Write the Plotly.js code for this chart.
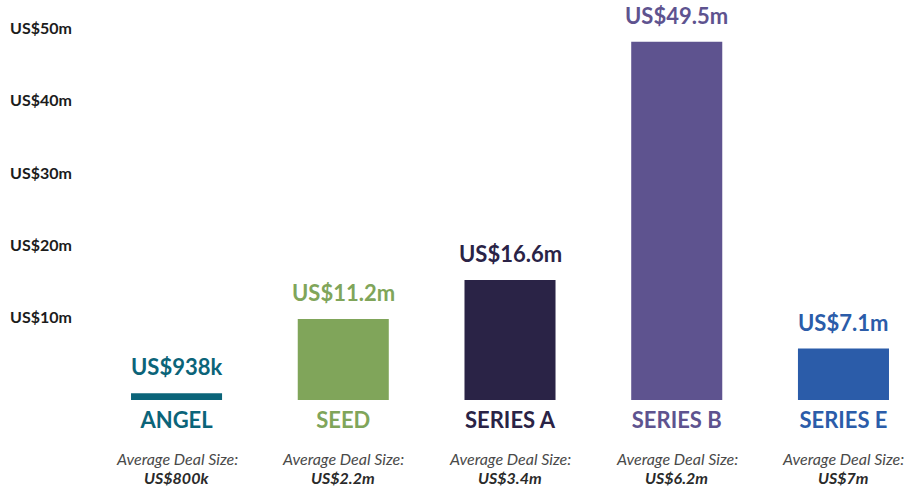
<!DOCTYPE html>
<html>
<head>
<meta charset="utf-8">
<script src="https://cdn.plot.ly/plotly-3.0.1.min.js"></script>
<style>
  html, body { margin: 0; padding: 0; background: #fff; }
  #chart { width: 912px; height: 490px; }
</style>
</head>
<body>
<div id="chart"></div>
<script>
// deal stage data
var stages = ["ANGEL", "SEED", "SERIES A", "SERIES B", "SERIES E"];
var totals = [0.938, 11.2, 16.6, 49.5, 7.1];          // US$ m
var totalLabels = ["US$938k", "US$11.2m", "US$16.6m", "US$49.5m", "US$7.1m"];
var avgDeal = ["US$800k", "US$2.2m", "US$3.4m", "US$6.2m", "US$7m"];
var colors = ["#0b6479", "#80a55a", "#2a2346", "#5e538f", "#2b5ca9"];

var yTicks = [10, 20, 30, 40, 50];
var yTickText = ["US$10m", "US$20m", "US$30m", "US$40m", "US$50m"];

var fontFam = "Lato, 'Open Sans', sans-serif";

var trace = {
    type: "bar",
    x: stages,
    y: totals,
    marker: { color: colors },
    hoverinfo: "x+y",
    showlegend: false
};

var annotations = [];
for (var i = 0; i < stages.length; i++) {
    // value above each bar
    annotations.push({
        x: stages[i], y: totals[i], xref: "x", yref: "y",
        text: "<b>" + totalLabels[i] + "</b>",
        showarrow: false, yanchor: "bottom", yshift: 11,
        font: { family: fontFam, size: 22, color: colors[i] }
    });
    // average deal size under the category name
    annotations.push({
        x: stages[i], y: 0, xref: "x", yref: "paper",
        text: "<i>Average Deal Size:</i>",
        showarrow: false, yanchor: "middle", yshift: -58,
        font: { family: fontFam, size: 16, color: "#4a4a4a" }
    });
    annotations.push({
        x: stages[i], y: 0, xref: "x", yref: "paper",
        text: "<b><i>" + avgDeal[i] + "</i></b>",
        showarrow: false, yanchor: "middle", yshift: -77,
        font: { family: fontFam, size: 16, color: "#2a2a2a" }
    });
}

var tickText = stages.map(function (s, i) {
    return "<span style='color:" + colors[i] + "'>" + s + "</span>";
});

var layout = {
    width: 912,
    height: 490,
    margin: { l: 80, r: 0, t: 2, b: 90 },
    paper_bgcolor: "#ffffff",
    plot_bgcolor: "#ffffff",
    bargap: 0.454,
    xaxis: {
        type: "category",
        range: [-0.579, 4.411],
        tickvals: stages,
        ticktext: tickText,
        tickfont: { family: fontFam, size: 22, weight: "bold" },
        showgrid: false, zeroline: false, showline: false, ticks: "",
        ticklabelstandoff: 5
    },
    yaxis: {
        range: [0, 55],
        tickvals: yTicks,
        ticktext: yTickText,
        tickfont: { family: fontFam, size: 16, weight: "bold", color: "#1c1c1c" },
        showgrid: false, zeroline: false, showline: false, ticks: "",
        ticklabelshift: -10,
        ticklabelstandoff: 7
    },
    annotations: annotations
};

Plotly.newPlot("chart", [trace], layout, { displayModeBar: false, staticPlot: true });
</script>
</body>
</html>
